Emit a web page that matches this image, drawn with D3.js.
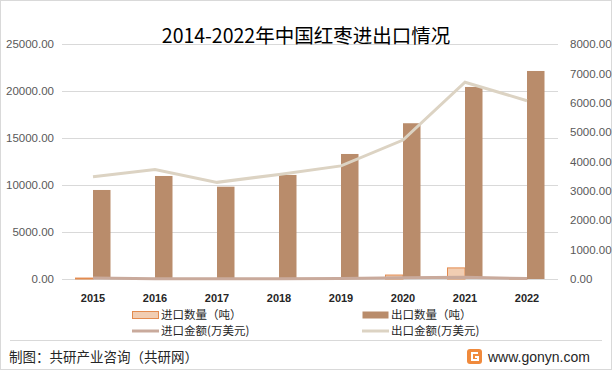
<!DOCTYPE html>
<html>
<head>
<meta charset="utf-8">
<script src="https://cdn.jsdelivr.net/npm/d3@7"></script>
<style>
    body { margin: 0; background: #fff; }
    svg { display: block; font-family: "Microsoft YaHei", "Noto Sans CJK SC", sans-serif; }
</style>
</head>
<body>
<script>
var years = ["2015", "2016", "2017", "2018", "2019", "2020", "2021", "2022"];
var importQty = [100, 10, 10, 10, 10, 420, 1180, 10];          // 进口数量（吨）
var exportQty = [9470, 10960, 9820, 11070, 13300, 16570, 20430, 22130]; // 出口数量（吨）
var importAmt = [30, 10, 10, 10, 15, 40, 60, 15];              // 进口金额(万美元)
var exportAmt = [3480, 3730, 3290, 3560, 3850, 4730, 6700, 6070]; // 出口金额(万美元)
var leftTicks = [0, 5000, 10000, 15000, 20000, 25000];
var rightTicks = [0, 1000, 2000, 3000, 4000, 5000, 6000, 7000, 8000];

window.onload = (event) => {
    drawChart();
};

function drawChart() {
    var width = 612,
        height = 370,
        margin = { top: 44, right: 54, bottom: 91, left: 62 };

    var svg = d3.select("body")
        .append("svg")
        .attr("width", width)
        .attr("height", height);

    svg.append("rect")
        .attr("x", 0.5).attr("y", 0.5)
        .attr("width", width - 1).attr("height", height - 1)
        .attr("fill", "#fff")
        .attr("stroke", "#d9d9d9");

    var x = d3.scaleBand()
        .domain(years)
        .range([margin.left, width - margin.right]);

    var yL = d3.scaleLinear()
        .domain([0, 25000])
        .range([height - margin.bottom, margin.top]);

    var yR = d3.scaleLinear()
        .domain([0, 8000])
        .range([height - margin.bottom, margin.top]);

    // gridlines
    svg.append("g")
        .selectAll("line")
        .data(leftTicks)
        .enter()
        .append("line")
        .attr("x1", margin.left)
        .attr("x2", width - margin.right)
        .attr("y1", d => Math.round(yL(d)) + 0.5)
        .attr("y2", d => Math.round(yL(d)) + 0.5)
        .attr("stroke", "#d9d9d9");

    // left axis
    var leftAxis = svg.append("g")
        .attr("transform", "translate(" + (margin.left - 5) + ",0)")
        .call(d3.axisLeft(yL).tickValues(leftTicks).tickSize(0).tickFormat(d3.format(".2f")));
    leftAxis.select(".domain").remove();
    leftAxis.selectAll("text")
        .attr("fill", "#595959")
        .style("font-size", "11.5px")
        .style("font-family", "'Liberation Sans Narrow', 'Liberation Sans', Arial, sans-serif");

    // right axis
    var rightAxis = svg.append("g")
        .attr("transform", "translate(" + (width - margin.right + 9) + ",0)")
        .call(d3.axisRight(yR).tickValues(rightTicks).tickSize(0).tickFormat(d3.format(".2f")));
    rightAxis.select(".domain").remove();
    rightAxis.selectAll("text")
        .attr("fill", "#595959")
        .style("font-size", "11.5px")
        .style("font-family", "'Liberation Sans Narrow', 'Liberation Sans', Arial, sans-serif");

    // x axis labels
    var bottomAxis = svg.append("g")
        .attr("transform", "translate(0," + (height - margin.bottom + 12) + ")")
        .call(d3.axisBottom(x).tickSize(0));
    bottomAxis.select(".domain").remove();
    bottomAxis.selectAll("text")
        .attr("fill", "#262626")
        .style("font-size", "11px")
        .style("font-weight", "bold")
        .style("font-family", "'Liberation Sans', Arial, sans-serif");

    var barW = 17.5;

    // import qty bars
    svg.append("g")
        .selectAll("rect")
        .data(importQty)
        .enter()
        .append("rect")
        .attr("x", (d, i) => x(years[i]) + x.bandwidth() / 2 - barW)
        .attr("width", barW)
        .attr("y", d => yL(d))
        .attr("height", d => yL(0) - yL(d))
        .attr("fill", "#f1cdb2")
        .attr("stroke", "#e38b4f")
        .attr("stroke-width", 1);

    // export qty bars
    svg.append("g")
        .selectAll("rect")
        .data(exportQty)
        .enter()
        .append("rect")
        .attr("x", (d, i) => x(years[i]) + x.bandwidth() / 2)
        .attr("width", barW)
        .attr("y", d => yL(d))
        .attr("height", d => yL(0) - yL(d))
        .attr("fill", "#b98c6b");

    var line = d3.line()
        .x((d, i) => x(years[i]) + x.bandwidth() / 2)
        .y(d => yR(d));

    svg.append("path")
        .datum(importAmt)
        .attr("d", line)
        .attr("fill", "none")
        .attr("stroke", "#c9aa9c")
        .attr("stroke-width", 3);

    svg.append("path")
        .datum(exportAmt)
        .attr("d", line)
        .attr("fill", "none")
        .attr("stroke", "#dcd3c3")
        .attr("stroke-width", 3);

    // title
    svg.append("text")
        .attr("x", width / 2)
        .attr("y", 43)
        .attr("text-anchor", "middle")
        .attr("fill", "#000")
        .style("font-size", "19.5px")
        .text("2014-2022年中国红枣进出口情况");

    // legend
    var legend = [
        { name: "进口数量（吨）", type: "bar", fill: "#f1cdb2", stroke: "#e38b4f", x: 132, y: 315 },
        { name: "出口数量（吨）", type: "bar", fill: "#b98c6b", stroke: "none", x: 362, y: 315 },
        { name: "进口金额(万美元)", type: "line", fill: "#c9aa9c", x: 132, y: 331 },
        { name: "出口金额(万美元)", type: "line", fill: "#dcd3c3", x: 362, y: 331 }
    ];
    var lg = svg.append("g")
        .selectAll("g")
        .data(legend)
        .enter()
        .append("g")
        .attr("transform", d => "translate(" + d.x + "," + d.y + ")");
    lg.filter(d => d.type == "bar")
        .append("rect")
        .attr("x", 0.5).attr("y", -3.5)
        .attr("width", 26).attr("height", 7)
        .attr("fill", d => d.fill)
        .attr("stroke", d => d.stroke);
    lg.filter(d => d.type == "line")
        .append("line")
        .attr("x1", 0).attr("x2", 27)
        .attr("stroke", d => d.fill)
        .attr("stroke-width", 3);
    lg.append("text")
        .attr("x", 29)
        .attr("dy", "0.35em")
        .attr("fill", "#262626")
        .style("font-size", "11.5px")
        .text(d => d.name);

    // footer
    svg.append("line")
        .attr("x1", 10).attr("x2", width - 10)
        .attr("y1", 340.5).attr("y2", 340.5)
        .attr("stroke", "#d9d9d9");

    svg.append("text")
        .attr("x", 9)
        .attr("y", 362)
        .attr("fill", "#262626")
        .style("font-size", "13.5px")
        .text("制图：共研产业咨询（共研网）");

    var logo = svg.append("g").attr("transform", "translate(467,349)");
    logo.append("rect")
        .attr("width", 15).attr("height", 15).attr("rx", 3)
        .attr("fill", "#f08a3c");
    logo.append("path")
        .attr("d", "M11,4 H5 V11 H11 V8 H8")
        .attr("fill", "none")
        .attr("stroke", "#fff")
        .attr("stroke-width", 2);

    svg.append("text")
        .attr("x", 488)
        .attr("y", 362)
        .attr("fill", "#262626")
        .style("font-size", "14px")
        .style("font-family", "'Liberation Sans', Arial, sans-serif")
        .text("www.gonyn.com");
}
</script>
</body>
</html>
